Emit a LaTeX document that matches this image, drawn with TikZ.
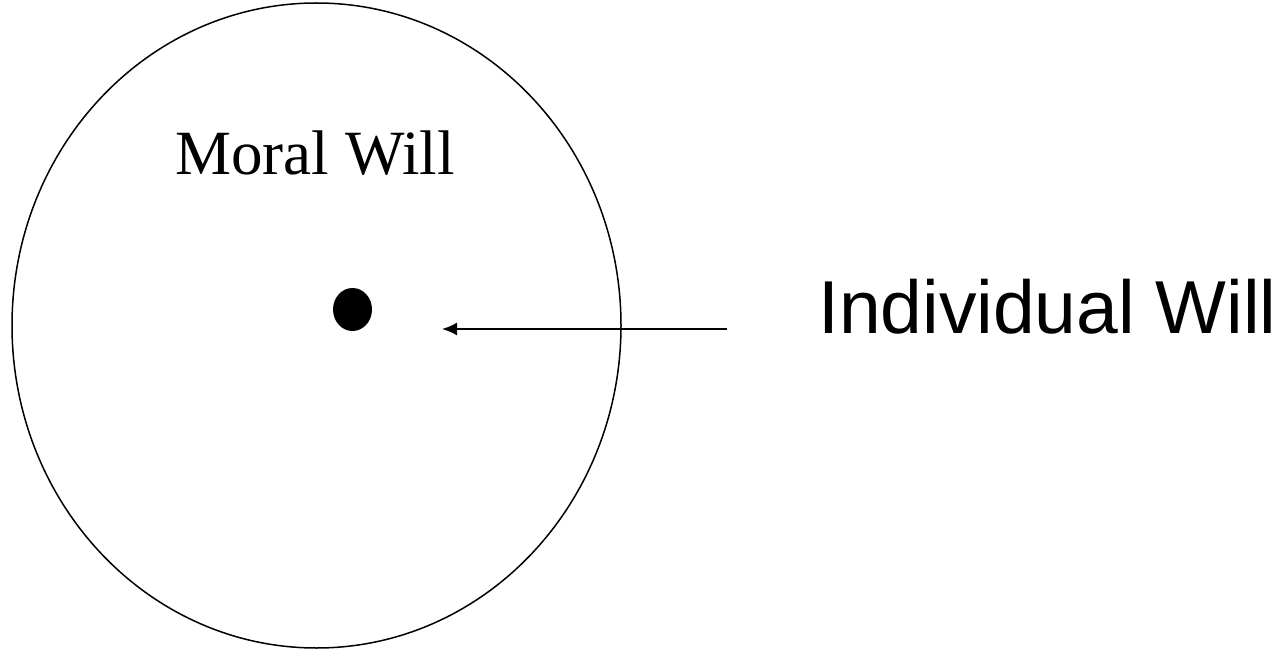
\documentclass[tikz,border=0pt]{standalone}
\usepackage{fontspec}
\setmainfont{Liberation Serif}
\newfontfamily\arialfont{Liberation Sans}
\usetikzlibrary{shapes.geometric,arrows.meta}
\begin{document}
\begin{tikzpicture}[x=1pt,y=-1pt,
  outline/.style={draw=black, line width=1.5pt, ellipse, inner sep=0pt},
  dotshape/.style={fill=black, ellipse, inner sep=0pt},
  pointer/.style={draw=black, line width=2pt, -{Latex[length=15pt,width=13pt]}},
  serifLabel/.style={font=\fontsize{63}{70}\selectfont, inner sep=0pt, anchor=base},
  sansLabel/.style={font=\arialfont\fontsize{75}{82}\selectfont, inner sep=0pt, anchor=base west}]
\useasboundingbox (0,0) rectangle (1286,650);
\node[outline, minimum width=609pt, minimum height=645pt] (moral) at (316.5,325.5) {};
\node[dotshape, minimum width=39pt, minimum height=43pt] (indiv) at (352.5,309.5) {};
\node[serifLabel] (moralText) at (315,175) {Moral Will};
\node[sansLabel] (indivText) at (818,333) {Individual Will};
\coordinate (arrowStart) at (727,329);
\coordinate (arrowTip) at (442,329);
\draw[pointer] (arrowStart) -- (arrowTip);
\end{tikzpicture}
\end{document}
